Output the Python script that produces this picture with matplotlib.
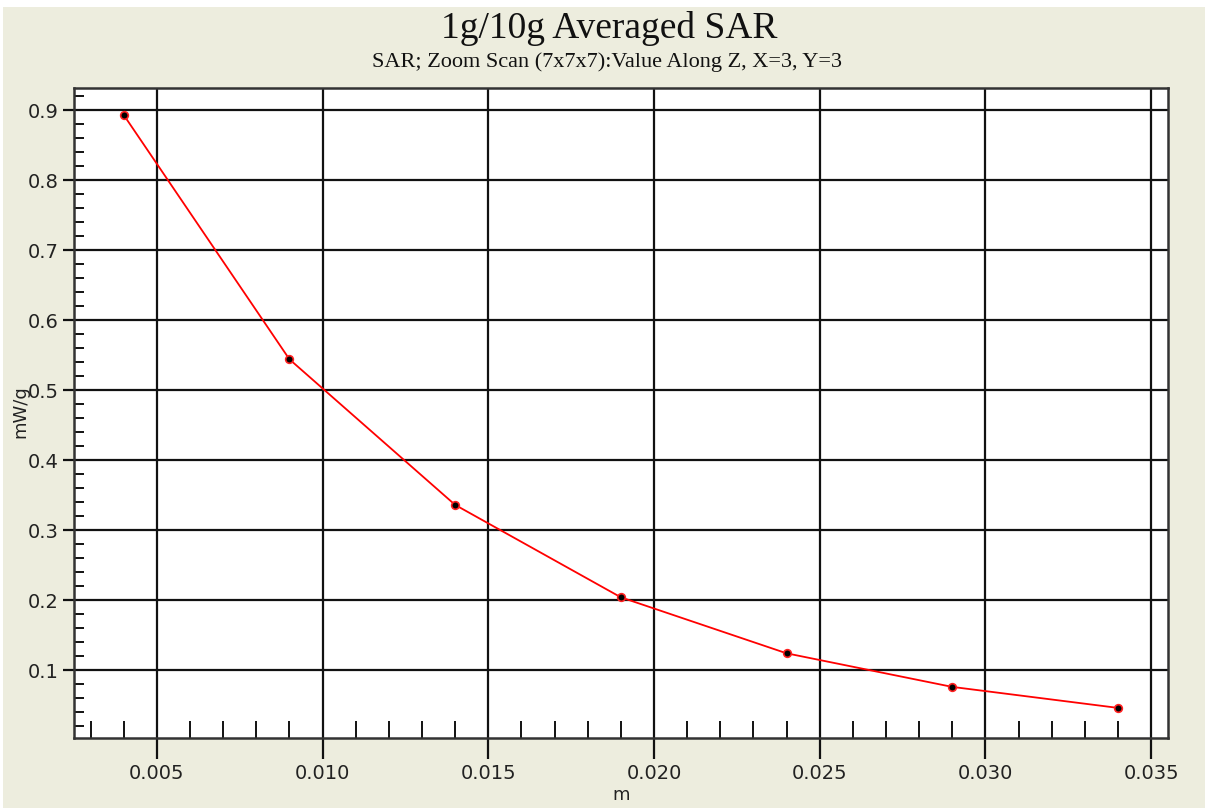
import matplotlib
matplotlib.use("Agg")
import matplotlib.pyplot as plt
from matplotlib.patches import Rectangle
from matplotlib.ticker import MultipleLocator, FormatStrFormatter

# Data
x_m = [0.004, 0.009, 0.014, 0.019, 0.024, 0.029, 0.034]
sar_mWg = [0.893, 0.544, 0.336, 0.204, 0.124, 0.076, 0.046]
title = "1g/10g Averaged SAR"
subtitle = "SAR; Zoom Scan (7x7x7):Value Along Z, X=3, Y=3"
x_label = "m"
y_label = "mW/g"

W, H = 1205, 808
fig = plt.figure(figsize=(W / 100, H / 100), dpi=100, facecolor="white")
bg = "#EDEDDE"
fig.patches.append(Rectangle((3 / W, 0), 1, (H - 7) / H, transform=fig.transFigure,
                             facecolor=bg, edgecolor="none", zorder=-10))

left, right, top, bottom = 74, 1168, 88, 738
ax = fig.add_axes([left / W, (H - bottom) / H, (right - left) / W, (bottom - top) / H])
ax.set_facecolor("white")

ax.plot(x_m, sar_mWg, color="#FF0000", lw=1.3, zorder=3)
ax.plot(x_m, sar_mWg, ls="none", marker="o", ms=5.5, mfc="black", mec="#FF2020",
        mew=1.2, zorder=4)

ax.set_xlim(0.0025, 0.03551)
ax.set_ylim(0.003, 0.9315)

ax.xaxis.set_major_locator(MultipleLocator(0.005))
ax.xaxis.set_minor_locator(MultipleLocator(0.001))
ax.yaxis.set_major_locator(MultipleLocator(0.1))
ax.yaxis.set_minor_locator(MultipleLocator(0.02))
ax.xaxis.set_major_formatter(FormatStrFormatter("%.3f"))
ax.yaxis.set_major_formatter(FormatStrFormatter("%.1f"))

ax.grid(True, which="major", color="#111111", lw=1.6, zorder=1)
ax.set_axisbelow(True)

tc = "#222222"
ax.tick_params(axis="x", which="major", direction="out", length=15, width=1.6,
               color="#111111", labelsize=14, labelcolor=tc, pad=4)
ax.tick_params(axis="x", which="minor", direction="in", length=12, width=1.4, color="#111111")
ax.tick_params(axis="y", which="major", direction="out", length=8, width=1.6,
               color="#111111", labelsize=14, labelcolor=tc, pad=3)
ax.tick_params(axis="y", which="minor", direction="in", length=7, width=1.4, color="#111111")

for s in ax.spines.values():
    s.set_color("#333333")
    s.set_linewidth(1.8)

fig.text(609 / W, 1 - 29 / H, title, ha="center", va="center",
         family="Liberation Serif", fontsize=27, color="#111111")
fig.text(607 / W, 1 - 62 / H, subtitle, ha="center", va="center",
         family="Liberation Serif", fontsize=16, color="#111111")
fig.text(621 / W, 1 - 795 / H, x_label, ha="center", va="center",
         fontsize=13, color=tc)
fig.text(20 / W, 1 - 412 / H, y_label, ha="center", va="center", rotation=90,
         fontsize=13, color=tc)

fig.savefig("out.png", dpi=100, facecolor=fig.get_facecolor())
